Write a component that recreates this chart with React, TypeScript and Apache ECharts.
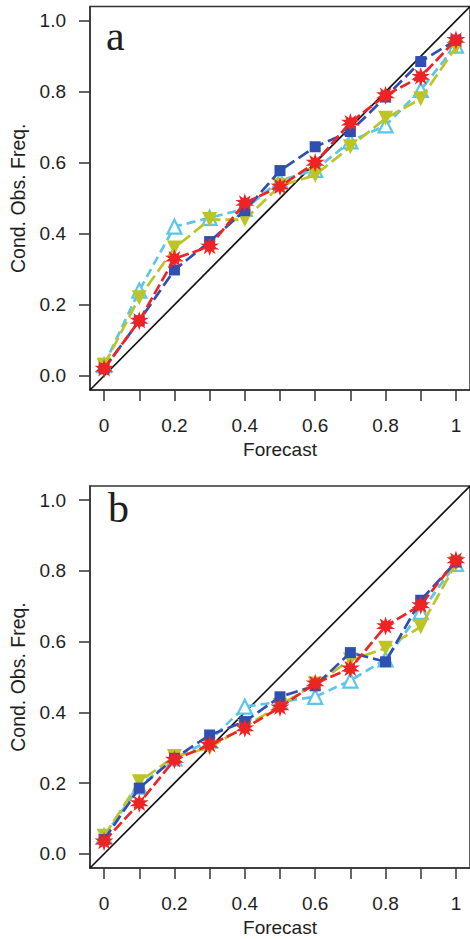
import React, { useEffect, useRef } from "react";
import * as echarts from "echarts";

// ---- data ----
const forecast = [0, 0.1, 0.2, 0.3, 0.4, 0.5, 0.6, 0.7, 0.8, 0.9, 1.0];
const xTickValues = [0, 0.1, 0.2, 0.3, 0.4, 0.5, 0.6, 0.7, 0.8, 0.9, 1.0];
const xLabelValues = [0, 0.2, 0.4, 0.6, 0.8, 1.0];
const yTickValues = [0, 0.2, 0.4, 0.6, 0.8, 1.0];
const diagonal = [-0.04, 1.04];

const aBlue = [0.02, 0.155, 0.298, 0.378, 0.465, 0.578, 0.645, 0.688, 0.785, 0.885, 0.945];
const aCyan = [0.03, 0.24, 0.42, 0.445, 0.47, 0.55, 0.58, 0.66, 0.705, 0.805, 0.93];
const aYellow = [0.03, 0.22, 0.36, 0.44, 0.44, 0.535, 0.565, 0.645, 0.725, 0.78, 0.925];
const aRed = [0.02, 0.155, 0.33, 0.364, 0.487, 0.533, 0.6, 0.713, 0.79, 0.842, 0.946];

const bBlue = [0.04, 0.186, 0.27, 0.336, 0.374, 0.444, 0.475, 0.569, 0.543, 0.717, 0.825];
const bCyan = [0.05, 0.19, 0.27, 0.32, 0.416, 0.43, 0.444, 0.49, 0.55, 0.684, 0.82];
const bYellow = [0.05, 0.204, 0.275, 0.3, 0.36, 0.42, 0.48, 0.548, 0.581, 0.642, 0.82];
const bRed = [0.035, 0.143, 0.266, 0.308, 0.355, 0.414, 0.482, 0.524, 0.644, 0.703, 0.83];

const panelLetters = ["a", "b"];

// ---- styles ----
const BLUE = "#2f4fb3";
const CYAN = "#5cc6e6";
const YELLOW = "#bcc426";
const RED = "#ee2424";
const TEXT = "#1e1e1e";
const SANS = "Liberation Sans, Arial, sans-serif";

function starPath(n: number, outer: number, inner: number): string {
  let d = "";
  for (let i = 0; i < n * 2; i++) {
    const r = i % 2 === 0 ? outer : inner;
    const a = (Math.PI * i) / n - Math.PI / 2;
    const x = 50 + r * Math.cos(a);
    const y = 50 + r * Math.sin(a);
    d += (i === 0 ? "M" : "L") + x.toFixed(2) + " " + y.toFixed(2);
  }
  return "path://" + d + "Z";
}
const STAR = starPath(10, 50, 26);

function pairs(ys: number[]) {
  return forecast.map((x, i) => [x, ys[i]]);
}

function buildPanel(idx: number, blue: number[], cyan: number[], yellow: number[], red: number[]) {
  const lineW = 2.7;
  return [
    {
      type: "line",
      xAxisIndex: idx,
      yAxisIndex: idx,
      data: diagonal.map((v) => [v, v]),
      symbol: "none",
      lineStyle: { color: "#111", width: 1.7 },
      z: 1,
      silent: true,
    },
    {
      type: "line",
      xAxisIndex: idx,
      yAxisIndex: idx,
      data: pairs(cyan),
      symbol: "triangle",
      symbolSize: 14,
      lineStyle: { color: CYAN, width: lineW, type: [9, 5] },
      itemStyle: { color: "#ffffff", borderColor: CYAN, borderWidth: 2.2 },
      z: 2,
    },
    {
      type: "line",
      xAxisIndex: idx,
      yAxisIndex: idx,
      data: pairs(yellow),
      symbol: "triangle",
      symbolRotate: 180,
      symbolSize: 15,
      lineStyle: { color: YELLOW, width: lineW, type: [13, 5] },
      itemStyle: { color: YELLOW, borderWidth: 0 },
      z: 3,
    },
    {
      type: "line",
      xAxisIndex: idx,
      yAxisIndex: idx,
      data: pairs(blue),
      symbol: "rect",
      symbolSize: 11,
      lineStyle: { color: BLUE, width: lineW, type: [12, 5] },
      itemStyle: { color: BLUE, borderWidth: 0 },
      z: 4,
    },
    {
      type: "line",
      xAxisIndex: idx,
      yAxisIndex: idx,
      data: pairs(red),
      symbol: STAR,
      symbolSize: 19,
      lineStyle: { color: RED, width: lineW, type: [11, 4] },
      itemStyle: { color: RED, borderWidth: 0 },
      z: 5,
    },
  ];
}

function xAxisFor(idx: number) {
  return {
    type: "value",
    gridIndex: idx,
    min: -0.04,
    max: 1.04,
    splitLine: { show: false },
    axisLine: { show: true, onZero: false, lineStyle: { color: "#333", width: 1.5 } },
    axisTick: {
      show: true,
      inside: false,
      length: 11,
      customValues: xTickValues,
      lineStyle: { color: "#333", width: 1.5 },
    },
    axisLabel: {
      customValues: xLabelValues,
      formatter: (v: number) =>
        Math.abs(v) < 1e-9 ? "0" : Math.abs(v - 1) < 1e-9 ? "1" : v.toFixed(1),
      fontSize: 19,
      fontFamily: SANS,
      color: TEXT,
      margin: 26,
    },
    name: "Forecast",
    nameLocation: "middle",
    nameGap: 50,
    nameTextStyle: { fontSize: 19, fontFamily: SANS, color: TEXT },
  };
}

function yAxisFor(idx: number) {
  return {
    type: "value",
    gridIndex: idx,
    min: -0.04,
    max: 1.04,
    splitLine: { show: false },
    axisLine: { show: true, onZero: false, lineStyle: { color: "#333", width: 1.5 } },
    axisTick: {
      show: true,
      inside: false,
      length: 11,
      customValues: yTickValues,
      lineStyle: { color: "#333", width: 1.5 },
    },
    axisLabel: {
      customValues: yTickValues,
      formatter: (v: number) => v.toFixed(1),
      fontSize: 19,
      fontFamily: SANS,
      color: TEXT,
      margin: 24,
    },
    name: "Cond. Obs. Freq.",
    nameLocation: "middle",
    nameRotate: 90,
    nameGap: 62,
    nameTextStyle: { fontSize: 19.5, fontFamily: SANS, color: TEXT },
  };
}

export default function App() {
  const ref = useRef<HTMLDivElement>(null);
  useEffect(() => {
    if (!ref.current) return;
    const chart = echarts.init(ref.current, undefined, { renderer: "svg" });
    const option = {
      animation: false,
      backgroundColor: "#ffffff",
      grid: [
        { left: 89, top: 6.5, width: 385, height: 383.5, show: true, borderColor: "#333", borderWidth: 1.5, backgroundColor: "transparent" },
        { left: 89, top: 486, width: 385, height: 382, show: true, borderColor: "#333", borderWidth: 1.5, backgroundColor: "transparent" },
      ],
      xAxis: [xAxisFor(0), xAxisFor(1)],
      yAxis: [yAxisFor(0), yAxisFor(1)],
      series: [
        ...buildPanel(0, aBlue, aCyan, aYellow, aRed),
        ...buildPanel(1, bBlue, bCyan, bYellow, bRed),
      ],
      graphic: [
        {
          type: "text",
          x: 106,
          y: 36,
          style: { text: panelLetters[0], fontSize: 42, fontFamily: "Liberation Serif, DejaVu Serif, serif", fill: TEXT, align: "left", verticalAlign: "middle" },
        },
        {
          type: "text",
          x: 108,
          y: 508,
          style: { text: panelLetters[1], fontSize: 42, fontFamily: "Liberation Serif, DejaVu Serif, serif", fill: TEXT, align: "left", verticalAlign: "middle" },
        },
      ],
    };
    chart.setOption(option as any);
    return () => chart.dispose();
  }, []);
  return (
    <div
      ref={ref}
      style={{ position: "fixed", left: 0, top: 0, width: 470, height: 939, background: "#fff" }}
    />
  );
}
